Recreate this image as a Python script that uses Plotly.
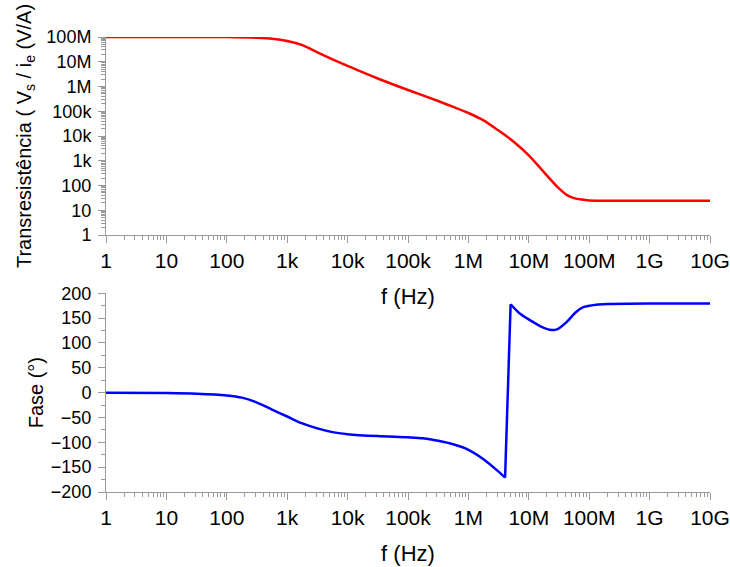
import plotly.graph_objects as go
from plotly.subplots import make_subplots

# Transresistance magnitude |Vs / ie| (V/A) versus frequency
freq_mag = [1, 10, 100, 316, 562, 1e3, 1.78e3, 3.16e3, 5.62e3, 1e4, 3.16e4, 1e5,
            3.16e5, 5.62e5, 1e6, 1.78e6, 3.16e6, 5.62e6, 1e7, 1.78e7, 3.16e7,
            4.22e7, 5.62e7, 7.5e7, 1e8, 3.16e8, 1e9, 1e10]
mag = [1e8, 1e8, 1e8, 9.3e7, 8.5e7, 6.9e7, 4.7e7, 2.4e7, 1.26e7, 6.8e6, 2.1e6, 7.2e5,
       2.6e5, 1.5e5, 8.5e4, 4.3e4, 1.66e4, 5.9e3, 1.66e3, 347, 76,
       42, 31, 27, 25, 24.5, 24.5, 24.5]

# Phase (degrees) versus frequency
freq_ph = [1, 10, 31.6, 100, 178, 316, 562, 1e3, 1.78e3, 3.16e3, 5.62e3, 1e4, 3.16e4,
           1e5, 1.78e5, 3.16e5, 5.62e5, 1e6, 1.78e6, 3.16e6, 4.05e6,
           5e6, 7e6, 1.05e7, 1.6e7, 2.4e7, 3e7, 4.3e7, 6e7, 8e7, 1.3e8, 2e8, 1e9, 1e10]
phase = [0, -0.8, -2, -5.5, -10, -20, -34, -48, -62, -72, -79.5, -83.5, -87.5,
         -90, -92, -97, -104, -115, -134, -159, -171,
         178, 160, 146, 133, 126, 128, 143, 162, 172, 177, 178.5, 179.5, 179.5]

x_tickvals = [1, 10, 100, 1e3, 1e4, 1e5, 1e6, 1e7, 1e8, 1e9, 1e10]
x_ticktext = ["1", "10", "100", "1k", "10k", "100k", "1M", "10M", "100M", "1G", "10G"]
mag_tickvals = [1, 10, 100, 1e3, 1e4, 1e5, 1e6, 1e7, 1e8]
mag_ticktext = ["1", "10", "100", "1k", "10k", "100k", "1M", "10M", "100M"]

FONT = "Liberation Sans, Arial, sans-serif"
AXIS_GRAY = "#9a9a9a"
RED = "#ff0000"
BLUE = "#0000ff"

fig = make_subplots(rows=2, cols=1, vertical_spacing=0.0)

fig.add_trace(go.Scatter(x=freq_mag, y=mag, mode="lines",
                         line=dict(color=RED, width=2.5, shape="spline", smoothing=0.8),
                         showlegend=False),
              row=1, col=1)

# phase wraps from -180 to +180 between 4 MHz and 5 MHz: smooth pieces joined by a straight jump
jump = phase.index(-171)
segments = [(0, jump + 1, "spline"), (jump, jump + 2, "linear"), (jump + 1, len(phase), "spline")]
for a, b, shape in segments:
    fig.add_trace(go.Scatter(x=freq_ph[a:b], y=phase[a:b], mode="lines",
                             line=dict(color=BLUE, width=2.5, shape=shape, smoothing=0.8),
                             showlegend=False),
                  row=2, col=1)

common_x = dict(
    type="log", range=[0, 10], tickvals=x_tickvals, ticktext=x_ticktext,
    showline=True, linecolor=AXIS_GRAY, linewidth=1, mirror=False, automargin=False,
    ticks="outside", ticklen=7, tickcolor=AXIS_GRAY, showgrid=False, zeroline=False,
    minor=dict(ticks="outside", ticklen=4, tickcolor=AXIS_GRAY, dtick="D1", showgrid=False),
    tickfont=dict(size=21, color="black", family=FONT), ticklabelstandoff=0,
    title=dict(text="f (Hz)", font=dict(size=22, color="black", family=FONT), standoff=17),
)

fig.update_xaxes(**common_x, row=1, col=1)
fig.update_xaxes(**common_x, row=2, col=1)

fig.update_yaxes(
    type="log", range=[0, 8], tickvals=mag_tickvals, ticktext=mag_ticktext,
    domain=[0.5648, 1.0], automargin=False,
    showline=True, linecolor=AXIS_GRAY, linewidth=1,
    ticks="outside", ticklen=7, tickcolor=AXIS_GRAY, showgrid=False, zeroline=False,
    minor=dict(ticks="outside", ticklen=4, tickcolor=AXIS_GRAY, dtick="D1", showgrid=False),
    tickfont=dict(size=18, color="black", family=FONT), ticklabelstandoff=3,
    title=dict(text="Transresistência ( V<sub>s</sub> / i<sub>e</sub> (V/A)",
               font=dict(size=20, color="black", family=FONT), standoff=9),
    row=1, col=1)

fig.update_yaxes(
    range=[-200, 200], dtick=50, domain=[0.0, 0.4367], automargin=False,
    showline=True, linecolor=AXIS_GRAY, linewidth=1,
    ticks="outside", ticklen=7, tickcolor=AXIS_GRAY, showgrid=False, zeroline=False,
    minor=dict(ticks="outside", ticklen=4, tickcolor=AXIS_GRAY, dtick=25, showgrid=False),
    tickfont=dict(size=18, color="black", family=FONT), ticklabelstandoff=3,
    title=dict(text="Fase (°)", font=dict(size=20, color="black", family=FONT), standoff=1),
    row=2, col=1)

fig.update_layout(
    width=730, height=567,
    margin=dict(l=106, r=20, t=37, b=75),
    paper_bgcolor="white", plot_bgcolor="white",
    font=dict(family=FONT, color="black"),
)

fig.write_html("out.html")
